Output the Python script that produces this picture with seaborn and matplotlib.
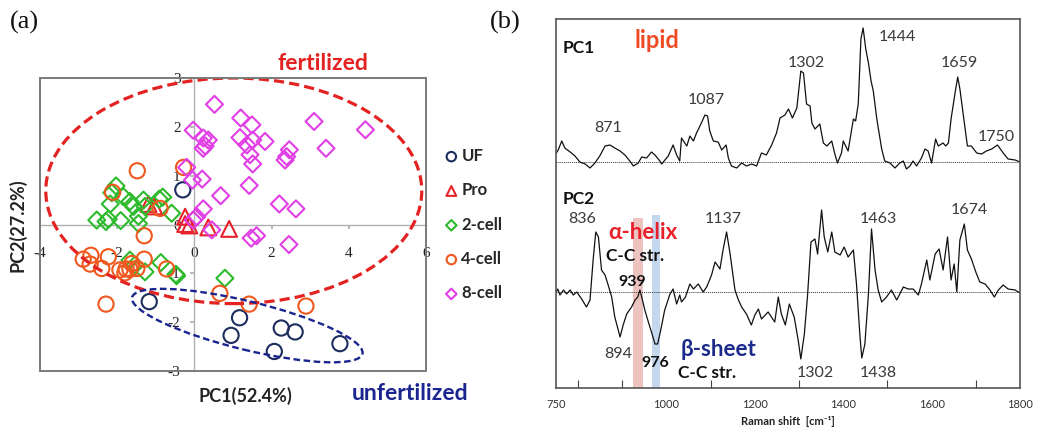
import numpy as np
import pandas as pd
import matplotlib
matplotlib.use("Agg")
import matplotlib.pyplot as plt
import seaborn as sns
from matplotlib.patches import Ellipse, Rectangle

# ---------------- data: PCA score plot (a) ----------------
uf_x = [-0.30, -1.17, 1.17, 0.95, 2.25, 2.61, 2.07, 3.77]
uf_y = [0.71, -1.58, -1.91, -2.27, -2.12, -2.20, -2.60, -2.44]

pro_x = [-1.19, -1.04, -0.24, -0.24, -0.13, 0.36, 0.90]
pro_y = [0.42, 0.37, 0.16, 0.01, -0.02, -0.06, -0.09]

two_x = [-2.03, -2.14, -2.18, -1.84, -1.67, -1.58, -1.32, -1.28, -0.82, -0.91,
         -0.59, -2.53, -2.29, -2.23, -1.91, -1.45, -1.45, -1.67, -1.54, -1.28,
         -0.87, -0.48, -0.46, 0.79]
two_y = [0.79, 0.65, 0.42, 0.57, 0.47, 0.37, 0.50, 0.37, 0.56, 0.52,
         0.23, 0.09, 0.06, 0.11, 0.08, 0.17, 0.02, -0.73, -0.83, -0.97,
         -0.78, -1.02, -1.05, -1.10]

four_x = [-1.48, -0.28, -2.12, -0.89, -1.30, -2.88, -2.68, -2.70, -2.40, -2.23,
          -1.93, -1.77, -1.80, -1.62, -1.49, -1.30, -1.67, -0.72, -2.29, 0.66,
          1.42, 2.89]
four_y = [1.10, 1.17, 0.66, 0.33, -0.23, -0.71, -0.63, -0.81, -0.90, -0.66,
          -0.93, -0.91, -0.99, -0.80, -0.90, -0.71, -0.92, -0.91, -1.63, -1.41,
          -1.63, -1.67]

eight_x = [0.52, 1.20, 1.49, 3.10, 4.43, -0.03, 0.23, 0.36, 0.28, 0.23,
           1.18, 1.36, 1.51, 1.83, 1.44, 1.51, 2.46, 2.39, 2.35, 3.41,
           -0.20, -0.05, 0.20, 1.42, 0.68, 2.20, 2.63, 0.23, 0.06, -0.03,
           0.45, 1.47, 1.61, 2.45]
eight_y = [2.46, 2.18, 2.04, 2.11, 1.94, 1.93, 1.77, 1.73, 1.61, 1.56,
           1.78, 1.63, 1.73, 1.70, 1.43, 1.24, 1.53, 1.39, 1.32, 1.56,
           1.17, 0.91, 0.93, 0.80, 0.59, 0.42, 0.32, 0.32, 0.16, 0.09,
           -0.11, -0.28, -0.23, -0.41]

group_names = ["UF", "Pro", "2-cell", "4-cell", "8-cell"]
pc_x_ticks = [-4, -2, 0, 2, 4, 6]
pc_y_ticks = [-3, -2, -1, 0, 1, 2, 3]

# ---------------- data: PC loadings (b) ----------------
pc1_wn = [748, 755, 763, 770, 782, 793, 804, 816, 827, 838, 849, 861, 872, 883, 895,
          906, 917, 925, 936, 944, 955, 966, 974, 985, 989, 1004, 1015, 1023, 1030,
          1034, 1046, 1053, 1061, 1068, 1079, 1087, 1093, 1098, 1106, 1117, 1125,
          1135, 1140, 1147, 1159, 1170, 1181, 1193, 1204, 1209, 1215, 1226, 1238,
          1249, 1257, 1268, 1276, 1285, 1295, 1304, 1310, 1317, 1325, 1329, 1336,
          1347, 1355, 1363, 1374, 1381, 1387, 1396, 1400, 1411, 1423, 1428, 1434,
          1440, 1445, 1451, 1457, 1463, 1468, 1476, 1487, 1494, 1506, 1517, 1528,
          1536, 1543, 1551, 1558, 1566, 1577, 1585, 1592, 1600, 1609, 1615, 1626,
          1632, 1638, 1644, 1653, 1659, 1664, 1672, 1681, 1690, 1702, 1713, 1724,
          1736, 1749, 1762, 1773, 1789, 1800]
pc1_int = [7, 12, 21, 14, 10, 6, 0, -2, -6, -1, 6, 16, 17, 14, 11,
           7, 1, -4, -1, 5, 4, 10, 7, 1, -2, 6, 17, 7, 1,
           24, 16, 26, 21, 29, 39, 47, 46, 31, 21, 20, 12,
           17, 4, -4, -6, -1, -4, -2, -4, 2, 9, 7, 17,
           29, 44, 47, 53, 44, 54, 91, 89, 58, 56, 39, 33,
           38, 19, 16, 21, 8, -1, 9, 21, 11, 43, 41, 58,
           123, 134, 113, 99, 81, 71, 43, 13, 1, -1, -6, -1,
           1, -7, -4, 1, -4, 4, 13, 11, -1, 23, 16, 19,
           16, 19, 43, 69, 85, 73, 46, 16, 16, 9, 8, 11,
           13, 17, 9, 3, 2, 0]

pc2_wn = [748, 754, 759, 767, 774, 782, 789, 797, 808, 819, 827, 834, 840, 846, 853,
          861, 868, 876, 883, 895, 902, 910, 921, 929, 935, 940, 945, 951, 959, 966,
          974, 980, 987, 996, 1008, 1015, 1023, 1030, 1034, 1043, 1053, 1061, 1072,
          1083, 1091, 1102, 1110, 1121, 1128, 1136, 1144, 1155, 1162, 1170, 1181,
          1192, 1200, 1208, 1215, 1230, 1245, 1253, 1260, 1269, 1278, 1289, 1298,
          1304, 1312, 1319, 1327, 1336, 1342, 1351, 1357, 1365, 1374, 1381, 1393,
          1402, 1411, 1423, 1430, 1438, 1442, 1449, 1457, 1464, 1472, 1479, 1487,
          1498, 1509, 1521, 1528, 1536, 1547, 1558, 1570, 1577, 1589, 1596, 1608,
          1617, 1626, 1636, 1644, 1651, 1657, 1664, 1674, 1681, 1690, 1700, 1709,
          1721, 1732, 1742, 1751, 1762, 1773, 1789, 1800]
pc2_int = [-2, 3, -3, 2, -2, 2, -3, 0, -7, -15, -8, 32, 60, 55, 22,
           17, 7, -5, -25, -45, -33, -22, -15, -8, -5, 2, -7, -18, -30, -40,
           -52, -52, -38, -18, -2, 3, -12, -3, -10, -5, 8, 3, 8,
           0, 5, 17, 30, 23, 42, 60, 38, 2, -7, -15, -22,
           -33, -23, -17, -27, -20, -30, -5, -22, -33, -12, -25, -48,
           -67, -42, -5, 50, 53, 38, 82, 55, 40, 60, 40, 37,
           45, 35, 42, 8, -45, -66, -52, -2, 63, 22, 2, -10,
           -5, 2, -8, -2, 5, 3, 3, -3, 8, 32, 12, 38,
           43, 22, 55, 12, 28, 0, 52, 68, 42, 33, 20, 10,
           8, 2, -5, 2, 7, 3, 2, -1]

raman_ticks = [750, 1000, 1200, 1400, 1600, 1800]
pc1_peaks = ["871", "1087", "1302", "1444", "1659", "1750"]
pc2_peaks = ["836", "1137", "1463", "1674", "894", "1302", "1438"]

# ---------------- style ----------------
sns.set_theme(style="white")
FAM = ["Lato", "DejaVu Sans"]
SERIF = ["Liberation Serif", "DejaVu Serif"]
plt.rcParams["font.family"] = FAM
plt.rcParams["axes.unicode_minus"] = False

W, H = 1039, 430
fig = plt.figure(figsize=(W / 100, H / 100), dpi=100)
fig.patch.set_facecolor("white")

def fx(px):
    return px / W

def fy(py):
    return 1 - py / H

# ================= panel (a) =================
axL = fig.add_axes([fx(40), fy(371), fx(386), 293 / H])
axL.set_facecolor("white")

styles = {
    "UF": ("o", "#1c2d5e", 120),
    "Pro": ("^", "#e8222a", 130),
    "2-cell": ("D", "#2dbb2d", 75),
    "4-cell": ("o", "#f0581e", 120),
    "8-cell": ("D", "#e23ee6", 75),
}
xs = [uf_x, pro_x, two_x, four_x, eight_x]
ys = [uf_y, pro_y, two_y, four_y, eight_y]
for name, gx, gy in zip(group_names, xs, ys):
    mk, col, s = styles[name]
    df = pd.DataFrame({"PC1": gx, "PC2": gy})
    sns.scatterplot(data=df, x="PC1", y="PC2", ax=axL, marker=mk, s=s,
                    facecolors="none", edgecolors=col, linewidth=1.5,
                    label=name, zorder=3)

# group ellipses
axL.add_patch(Ellipse((1.02, 0.69), 2 * 4.87, 2 * 2.31, fill=False,
                      ec="#e42222", lw=2.3, ls=(0, (3.2, 1.6)), zorder=4))
axL.add_patch(Ellipse((1.37, -2.07), 2 * 3.04, 2 * 0.50, angle=-10.8, fill=False,
                      ec="#1a2590", lw=1.7, ls=(0, (2.8, 1.5)), zorder=4))

axL.set_xlim(-4, 6)
axL.set_ylim(-3, 3)
axL.set_xticks(pc_x_ticks)
axL.set_yticks(pc_y_ticks)
axL.set_xticklabels([str(t) for t in pc_x_ticks])
axL.set_yticklabels([str(t) for t in pc_y_ticks])
for side in ["left", "bottom"]:
    axL.spines[side].set_position(("data", 0))
    axL.spines[side].set_color("#b0b0b0")
    axL.spines[side].set_linewidth(1.0)
for side in ["top", "right"]:
    axL.spines[side].set_visible(False)
axL.add_patch(Rectangle((0, 0), 1, 1, transform=axL.transAxes, fill=False,
                        ec="#7a7a7a", lw=1.4, clip_on=False, zorder=5))
axL.tick_params(axis="x", bottom=True, direction="out", length=3, pad=13,
                color="#b0b0b0", labelsize=11, labelcolor="#222222")
axL.tick_params(axis="y", left=True, direction="out", length=3, pad=7,
                color="#b0b0b0", labelsize=11, labelcolor="#222222")
for lbl in axL.get_xticklabels() + axL.get_yticklabels():
    lbl.set_family(SERIF)
axL.set_xlabel("")
axL.set_ylabel("")

leg = axL.legend(loc="upper left", bbox_to_anchor=(fx(443), fy(148)),
                 bbox_transform=fig.transFigure, frameon=False,
                 prop={"family": FAM, "weight": "bold", "size": 12},
                 handletextpad=0.1, handlelength=1.0, labelspacing=1.1,
                 markerscale=0.62, borderpad=0, borderaxespad=0)

fig.text(fx(245), fy(396), "PC1(52.4%)", ha="center", va="center",
         fontsize=13, fontweight="bold", color="#222222")
fig.text(fx(17), fy(225), "PC2(27.2%)", ha="center", va="center",
         rotation=90, fontsize=13, fontweight="bold", color="#222222")
fig.text(fx(323), fy(63), "fertilized", ha="center", va="center",
         fontsize=16.5, fontweight="bold", color="#e42222")
fig.text(fx(410), fy(393), "unfertilized", ha="center", va="center",
         fontsize=16.5, fontweight="bold", color="#1a2590")
fig.text(fx(24), fy(22), "(a)", ha="center", va="center", fontsize=19,
         family=SERIF, color="#111111")
fig.text(fx(505), fy(22), "(b)", ha="center", va="center", fontsize=19,
         family=SERIF, color="#111111")

# ================= panel (b) =================
axR = fig.add_axes([fx(556), fy(388), fx(464), 369 / H])
axR.set_facecolor("white")
PC1_BASE, PC2_BASE = 226, 96

axR.axvspan(924, 946, ymin=0, ymax=0.46, color="#edc3bf", lw=0, zorder=0)
axR.axvspan(967, 985, ymin=0, ymax=0.47, color="#c3d7ee", lw=0, zorder=0)
axR.axhline(PC1_BASE, color="#333333", lw=0.7, ls=(0, (1, 1)), zorder=1)
axR.axhline(PC2_BASE, color="#333333", lw=0.7, ls=(0, (1, 1)), zorder=1)

d1 = pd.DataFrame({"wn": pc1_wn, "y": np.array(pc1_int) + PC1_BASE})
d2 = pd.DataFrame({"wn": pc2_wn, "y": np.array(pc2_int) + PC2_BASE})
sns.lineplot(data=d1, x="wn", y="y", ax=axR, color="#111111", lw=0.9, zorder=2)
sns.lineplot(data=d2, x="wn", y="y", ax=axR, color="#111111", lw=0.9, zorder=2)

axR.set_xlim(750, 1800)
axR.set_ylim(0, 369)
axR.set_yticks([])
axR.set_xticks(raman_ticks)
axR.set_xticklabels([str(t) for t in raman_ticks])
axR.set_xticks(np.arange(800, 1800, 100), minor=True)
axR.tick_params(axis="x", which="major", length=0, pad=8, labelsize=8,
                labelcolor="#333333")
axR.tick_params(axis="x", which="minor", bottom=True, direction="in", length=6,
                width=0.8, color="#444444")
for sp in axR.spines.values():
    sp.set_color("#555555")
    sp.set_linewidth(1.2)
axR.set_xlabel("Raman shift  [cm⁻¹]", fontsize=8, fontweight="bold",
               color="#222222", labelpad=4)
axR.set_ylabel("")

num_kw = dict(ha="center", va="center", fontsize=11.5, color="#3a3a3a")
axR.text(764, 340, "PC1", ha="left", va="center", fontsize=12.5,
         fontweight="bold", color="#111111")
axR.text(978, 347, "lipid", ha="center", va="center", fontsize=17,
         fontweight="bold", color="#f04a23")
pc1_lab_pos = [(868, 260), (1089, 288), (1316, 325), (1522, 351), (1662, 325), (1746, 251)]
for lab, (x, y) in zip(pc1_peaks, pc1_lab_pos):
    axR.text(x, y, lab, **num_kw)

axR.text(764, 189, "PC2", ha="left", va="center", fontsize=12.5,
         fontweight="bold", color="#111111")
pc2_lab_pos = [(809, 169), (1128, 169), (1479, 169), (1685, 178),
               (890, 34), (1336, 15), (1479, 15)]
for lab, (x, y) in zip(pc2_peaks, pc2_lab_pos):
    axR.text(x, y, lab, **num_kw)
axR.text(947, 155, "α-helix", ha="center", va="center", fontsize=16,
         fontweight="bold", color="#e8202a")
axR.text(929, 132, "C-C str.", ha="center", va="center", fontsize=12.5,
         fontweight="bold", color="#111111")
axR.text(922, 106, "939", ha="center", va="center", fontsize=11.5,
         fontweight="bold", color="#111111")
axR.text(974, 25, "976", ha="center", va="center", fontsize=11.5,
         fontweight="bold", color="#111111")
axR.text(1117, 39, "β-sheet", ha="center", va="center", fontsize=16,
         fontweight="bold", color="#1c2a8c")
axR.text(1092, 15, "C-C str.", ha="center", va="center", fontsize=12.5,
         fontweight="bold", color="#111111")

fig.savefig("out.png", dpi=100, facecolor="white")
